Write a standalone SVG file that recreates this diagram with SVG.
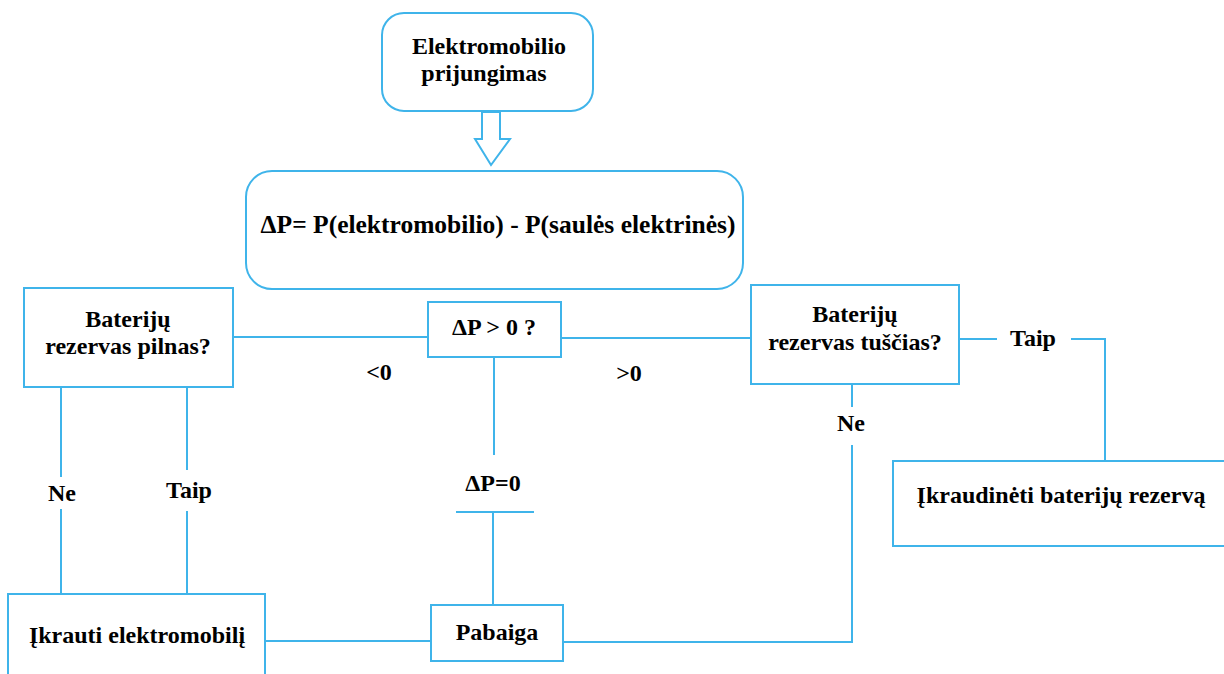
<svg xmlns="http://www.w3.org/2000/svg" width="1224" height="674" viewBox="0 0 1224 674">
<style>
.b{fill:#fff;stroke:#3fb4ea;stroke-width:2}
.c line,.c polyline{stroke:#3fb4ea;stroke-width:2;fill:none}
text{font-family:'Liberation Serif','DejaVu Serif',serif;font-weight:bold;font-size:24px;fill:#000;text-anchor:middle}
.big{font-size:25.5px}
</style>
<rect width="1224" height="674" fill="#fff"/>
<g class="c" id="connectors">
<polygon class="b" points="482,112 500,112 500,139 510,139 491,165 475,139 482,139"/>
<line x1="233" y1="337" x2="428" y2="337"/>
<line x1="561" y1="338" x2="751" y2="338"/>
<line x1="959" y1="339" x2="997" y2="339"/>
<polyline points="1071,339 1105,339 1105,461"/>
<line x1="852" y1="385" x2="852" y2="407"/>
<polyline points="852,445 852,642 563,642"/>
<line x1="61" y1="387" x2="61" y2="477"/>
<line x1="61" y1="509" x2="61" y2="594"/>
<line x1="187" y1="387" x2="187" y2="470"/>
<line x1="187" y1="511" x2="187" y2="594"/>
<line x1="494" y1="357" x2="494" y2="455"/>
<line x1="456" y1="512" x2="534" y2="512"/>
<line x1="493" y1="512" x2="493" y2="605"/>
<line x1="265" y1="641" x2="431" y2="641"/>
<text x="379" y="380">&lt;0</text>
<text x="629" y="381">&gt;0</text>
<text x="1033" y="346">Taip</text>
<text x="851" y="431">Ne</text>
<text x="62" y="501">Ne</text>
<text x="189" y="498">Taip</text>
<text x="493" y="491">ΔP=0</text>
</g>
<g id="start">
<rect class="b" x="382" y="13" width="211" height="98" rx="22"/>
<text x="489" y="54">Elektromobilio</text>
<text x="484" y="81">prijungimas</text>
</g>
<g id="deltaP">
<rect class="b" x="246" y="171" width="497" height="118" rx="26"/>
<text class="big" x="498" y="233">ΔP= P(elektromobilio) - P(saulės elektrinės)</text>
</g>
<g id="pilnas">
<rect class="b" x="24" y="288" width="209" height="99"/>
<text x="128" y="327">Baterijų</text>
<text x="128" y="354">rezervas pilnas?</text>
</g>
<g id="cond">
<rect class="b" x="428" y="302" width="133" height="55"/>
<text x="494" y="335">ΔP &gt; 0 ?</text>
</g>
<g id="tuscias">
<rect class="b" x="751" y="285" width="208" height="99"/>
<text x="855" y="322">Baterijų</text>
<text x="855" y="350">rezervas tuščias?</text>
</g>
<g id="ikraudineti">
<rect class="b" x="893" y="461" width="340" height="85"/>
<text x="1061" y="503">Įkraudinėti baterijų rezervą</text>
</g>
<g id="ikrauti">
<rect class="b" x="8" y="594" width="257" height="90"/>
<text x="137" y="643">Įkrauti elektromobilį</text>
</g>
<g id="pabaiga">
<rect class="b" x="431" y="605" width="132" height="56"/>
<text x="497" y="640">Pabaiga</text>
</g>
</svg>
